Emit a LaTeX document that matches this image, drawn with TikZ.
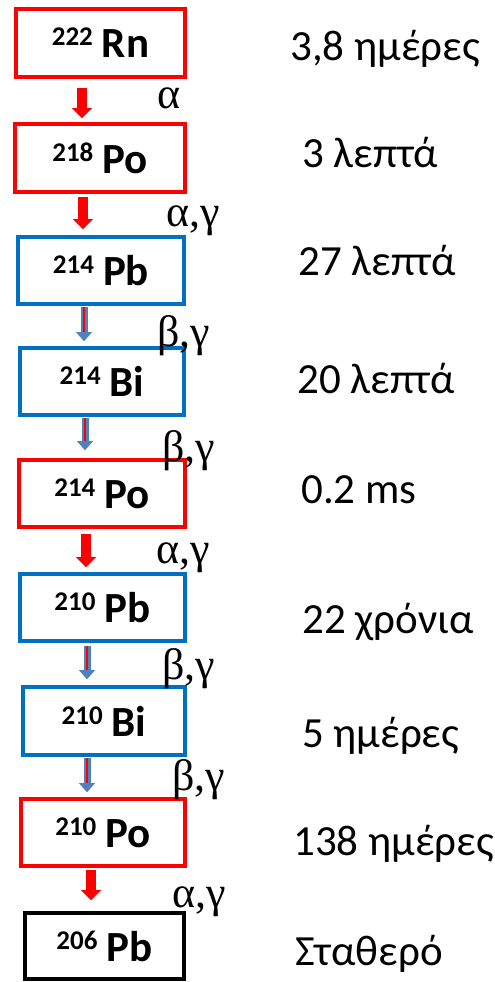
\documentclass[tikz,border=0pt]{standalone}
\usepackage{fontspec}
\setmainfont{Carlito}
\newfontfamily\greekserif{Liberation Serif}
\usetikzlibrary{arrows.meta}

\definecolor{alphared}{RGB}{255,0,0}
\definecolor{betablue}{RGB}{0,112,192}
\definecolor{arrowblue}{RGB}{79,129,189}

% isotope label: mass number raised, symbol in bold
\newcommand\iso[2]{\raisebox{12pt}{\fontsize{27}{27}\selectfont\bfseries #1}\hspace{9pt}{\fontsize{43}{43}\selectfont\bfseries #2}}

\begin{document}
\begin{tikzpicture}[x=1pt,y=-1pt,
  nucbox/.style={draw, line width=3.8pt, fill=white, inner sep=0pt, align=center},
  redbox/.style={nucbox, draw=alphared},
  bluebox/.style={nucbox, draw=betablue},
  blackbox/.style={nucbox, draw=black},
  decay/.style={anchor=base west, inner sep=0pt, font=\greekserif\fontsize{44}{44}\selectfont},
  halflife/.style={anchor=base west, inner sep=0pt, font=\fontsize{43}{43}\selectfont},
  alphaarrow/.style={draw=alphared, line width=10pt,
    -{Triangle[width=20pt,length=10pt,line width=0.01pt]}},
  betaarrow/.style={draw=arrowblue, line width=7pt,
    -{Triangle[width=16pt,length=9pt,line width=0.01pt]}},
  betacore/.style={draw=alphared, line width=2.6pt},
]
\useasboundingbox (0,0) rectangle (495,982);

% decay chain boxes
\node[redbox,   minimum width=169, minimum height=68] (rn222) at (100.5,43)  {\iso{222}{Rn}};
\node[redbox,   minimum width=170, minimum height=68] (po218) at (100,158)   {\iso{218}{Po}};
\node[bluebox,  minimum width=166, minimum height=67] (pb214) at (101,270.5) {\iso{214}{Pb}};
\node[bluebox,  minimum width=164, minimum height=67] (bi214) at (102,381.5) {\iso{214}{Bi}};
\node[redbox,   minimum width=166, minimum height=67] (po214) at (102,493.5) {\iso{214}{Po}};
\node[bluebox,  minimum width=165, minimum height=67] (pb210) at (102.5,607.5){\iso{210}{Pb}};
\node[bluebox,  minimum width=162, minimum height=68] (bi210) at (104,721)   {\iso{210}{Bi}};
\node[redbox,   minimum width=164, minimum height=67] (po210) at (103,832.5) {\iso{210}{Po}};
\node[blackbox, minimum width=159, minimum height=66] (pb206) at (104.5,946) {\iso{206}{Pb}};

% arrow axes
\coordinate (x1) at (82,0);
\coordinate (x2) at (83,0);
\coordinate (x3) at (84,0);
\coordinate (x4) at (85,0);
\coordinate (x5) at (86,0);
\coordinate (x6) at (87,0);
\coordinate (x7) at (87,0);
\coordinate (x8) at (91,0);

% alpha decays
\draw[alphaarrow, shorten <=9pt, shorten >=4pt] (rn222.south -| x1) -- (po218.north -| x1);
\draw[alphaarrow, shorten <=3pt, shorten >=6pt] (po218.south -| x2) -- (pb214.north -| x2);
\draw[alphaarrow, shorten <=5pt, shorten >=5pt] (po214.south -| x5) -- (pb210.north -| x5);
\draw[alphaarrow, shorten <=2pt, shorten >=11pt] (po210.south -| x8) -- (pb206.north -| x8);

% beta decays
\foreach \a/\b/\x/\s/\e in {pb214/bi214/x3/1/5, bi214/po214/x4/1/8, pb210/bi210/x6/3/6, bi210/po210/x7/1/5}{
  \draw[betaarrow, shorten <=\s pt, shorten >=\e pt] (\a.south -| \x) -- (\b.north -| \x);
  \draw[betacore, shorten <=\s pt, shorten >=\e pt+9pt] (\a.south -| \x) -- (\b.north -| \x);
}

% emitted radiation
\node[decay] (d1) at (157,108) {α};
\node[decay] (d2) at (166,226) {α,γ};
\node[decay] (d3) at (157,346) {β,γ};
\node[decay] (d4) at (162,461) {β,γ};
\node[decay] (d5) at (156,563) {α,γ};
\node[decay] (d6) at (162,679) {β,γ};
\node[decay] (d7) at (172,790) {β,γ};
\node[decay] (d8) at (172,907) {α,γ};

% half-lives
\node[halflife] (t1) at (290,60)  {3,8 ημέρες};
\node[halflife] (t2) at (302,167) {3 λεπτά};
\node[halflife] (t3) at (298,275) {27 λεπτά};
\node[halflife] (t4) at (297,393) {20 λεπτά};
\node[halflife] (t5) at (301,503) {0.2 ms};
\node[halflife] (t6) at (302,633) {22 χρόνια};
\node[halflife] (t7) at (302,747) {5 ημέρες};
\node[halflife] (t8) at (293,855) {138 ημέρες};
\node[halflife] (t9) at (295,965) {Σταθερό};
\end{tikzpicture}
\end{document}
